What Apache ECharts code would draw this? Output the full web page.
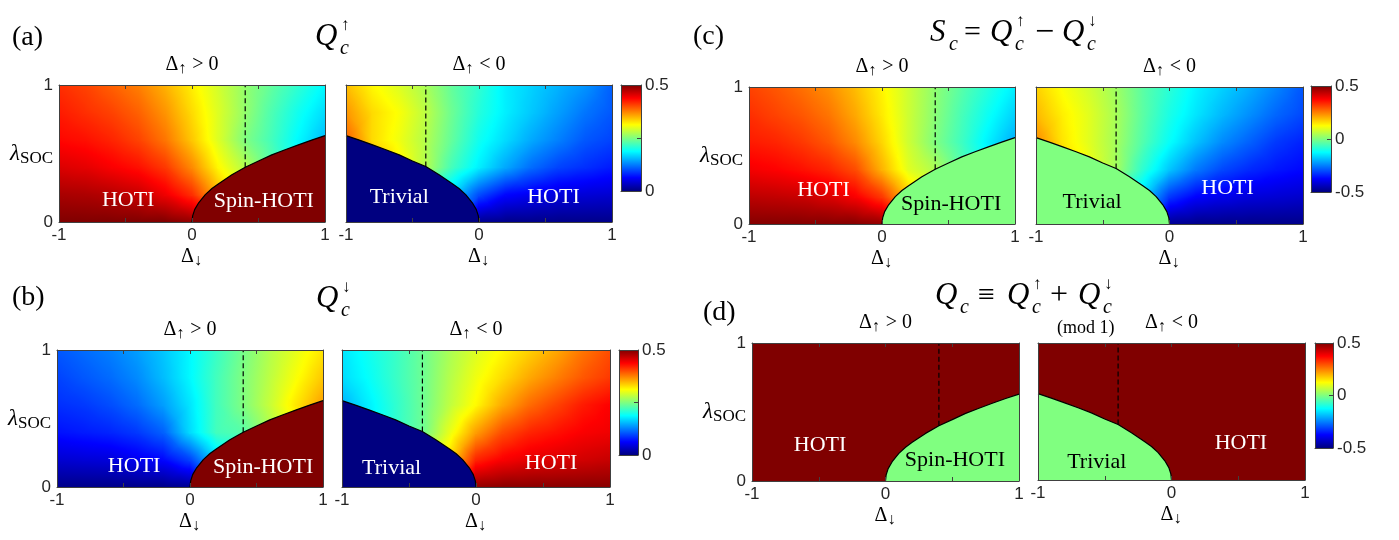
<!DOCTYPE html>
<html>
<head>
<meta charset="utf-8">
<script src="https://cdn.jsdelivr.net/npm/echarts@6/dist/echarts.min.js"></script>
<style>
  html, body { margin: 0; padding: 0; background: #fff; }
  #main { width: 1399px; height: 540px; }
</style>
</head>
<body>
<div id="main"></div>
<script>
// grid nodes of the phase maps
var deltaDown = [-1, -0.8, -0.6, -0.4, -0.2, 0, 0.2, 0.4, 0.6, 0.8, 1];
var lambdaSoc = [0, 0.2, 0.4, 0.6, 0.8, 1];

// Q_c^up, rows lambda = 0 .. 1
var qUpPos = [
  [0.5, 0.5, 0.5, 0.5, 0.5, 0.49, 0.45, 0.4, 0.35, 0.3, 0.25],
  [0.48, 0.478, 0.473, 0.465, 0.445, 0.415, 0.35, 0.3, 0.25, 0.225, 0.2],
  [0.455, 0.45, 0.44, 0.43, 0.41, 0.37, 0.315, 0.275, 0.23, 0.185, 0.16],
  [0.435, 0.43, 0.42, 0.405, 0.38, 0.34, 0.295, 0.25, 0.22, 0.185, 0.155],
  [0.425, 0.415, 0.405, 0.39, 0.365, 0.33, 0.295, 0.26, 0.225, 0.195, 0.17],
  [0.415, 0.405, 0.39, 0.375, 0.35, 0.32, 0.29, 0.26, 0.235, 0.21, 0.185]
];
var qUpNeg = [
  [0.25, 0.225, 0.2, 0.175, 0.15, 0.01, 0.005, 0.005, 0.005, 0.005, 0.005],
  [0.275, 0.25, 0.225, 0.2, 0.165, 0.1, 0.065, 0.055, 0.045, 0.043, 0.04],
  [0.4, 0.36, 0.32, 0.275, 0.22, 0.18, 0.145, 0.115, 0.095, 0.085, 0.075],
  [0.39, 0.33, 0.305, 0.275, 0.235, 0.195, 0.17, 0.145, 0.125, 0.105, 0.095],
  [0.365, 0.33, 0.31, 0.28, 0.24, 0.205, 0.18, 0.16, 0.14, 0.12, 0.105],
  [0.345, 0.315, 0.295, 0.27, 0.235, 0.21, 0.18, 0.165, 0.15, 0.135, 0.11]
];
// Q_c^down
var qDownPos = [
  [0.005, 0.005, 0.005, 0.005, 0.005, 0.01, 0.1, 0.15, 0.175, 0.2, 0.225],
  [0.04, 0.043, 0.045, 0.055, 0.065, 0.095, 0.165, 0.2, 0.225, 0.25, 0.275],
  [0.07, 0.075, 0.08, 0.09, 0.11, 0.17, 0.22, 0.23, 0.27, 0.31, 0.35],
  [0.085, 0.09, 0.1, 0.115, 0.14, 0.175, 0.22, 0.25, 0.285, 0.325, 0.36],
  [0.095, 0.105, 0.115, 0.13, 0.155, 0.185, 0.22, 0.25, 0.28, 0.31, 0.34],
  [0.105, 0.115, 0.125, 0.14, 0.16, 0.185, 0.215, 0.245, 0.275, 0.3, 0.325]
];
var qDownNeg = [
  [0.25, 0.275, 0.3, 0.325, 0.375, 0.49, 0.495, 0.495, 0.495, 0.495, 0.495],
  [0.2, 0.225, 0.25, 0.275, 0.33, 0.42, 0.44, 0.45, 0.455, 0.46, 0.465],
  [0.15, 0.175, 0.21, 0.24, 0.3, 0.36, 0.4, 0.42, 0.43, 0.44, 0.445],
  [0.15, 0.18, 0.21, 0.24, 0.28, 0.315, 0.355, 0.385, 0.405, 0.425, 0.438],
  [0.17, 0.19, 0.215, 0.24, 0.275, 0.305, 0.33, 0.355, 0.375, 0.395, 0.41],
  [0.175, 0.195, 0.215, 0.24, 0.27, 0.295, 0.315, 0.335, 0.355, 0.38, 0.4]
];

// Q_c (mod 1) in the HOTI phase, and the value inside the gapped regions
var qcHoti = 0.5;
var regionSpin = [0.5, 0.5, 0, 0];      // Q_up, Q_down, S_c, Q_c
var regionTrivial = [0, 0, 0, 0];

// phase boundary (Spin-HOTI for Delta_up > 0, Trivial for Delta_up < 0)
var bndPosDelta = [0, 0.005, 0.02, 0.05, 0.1, 0.15, 0.2, 0.3, 0.4, 0.5, 0.6, 0.7, 0.8, 0.9, 1];
var bndPosLambda = [0, 0.045, 0.09, 0.14, 0.2, 0.245, 0.28, 0.345, 0.4, 0.445, 0.49, 0.527, 0.563, 0.598, 0.63];
var bndNegDelta = [-1, -0.9, -0.8, -0.7, -0.6, -0.5, -0.4, -0.3, -0.2, -0.15, -0.1, -0.05, -0.02, -0.005, 0];
var bndNegLambda = [0.63, 0.598, 0.563, 0.527, 0.49, 0.445, 0.405, 0.345, 0.28, 0.245, 0.2, 0.14, 0.09, 0.045, 0];

// dashed guide |Delta_down| = |Delta_up|
var dashDelta = [0.4, -0.4];
var dashLambda = [0.4, 0.405];

// S_c = Q_up - Q_down
function diff(a, b) {
  return a.map(function (row, j) { return row.map(function (v, i) { return +(v - b[j][i]).toFixed(4); }); });
}
var scPos = diff(qUpPos, qDownPos);
var scNeg = diff(qUpNeg, qDownNeg);
var qcField = [[qcHoti, qcHoti], [qcHoti, qcHoti]];

var JET = [[0, [0, 0, 128]], [0.125, [0, 0, 255]], [0.375, [0, 255, 255]],
           [0.625, [255, 255, 0]], [0.875, [255, 0, 0]], [1, [128, 0, 0]]];
function jet(t) {
  t = Math.max(0, Math.min(1, t));
  for (var k = 1; k < JET.length; k++) {
    if (t <= JET[k][0]) {
      var a = JET[k - 1], b = JET[k], f = (t - a[0]) / (b[0] - a[0]);
      return 'rgb(' + [0, 1, 2].map(function (c) {
        return Math.round(a[1][c] + f * (b[1][c] - a[1][c]));
      }).join(',') + ')';
    }
  }
  return 'rgb(128,0,0)';
}

// one triangle, coloured linearly between its three corner values
function tri(A, B, C, range) {
  var norm = function (v) { return (v - range[0]) / (range[1] - range[0]); };
  var dx1 = B.p[0] - A.p[0], dy1 = B.p[1] - A.p[1], dv1 = B.v - A.v;
  var dx2 = C.p[0] - A.p[0], dy2 = C.p[1] - A.p[1], dv2 = C.v - A.v;
  var det = dx1 * dy2 - dx2 * dy1;
  var ga = (dv1 * dy2 - dv2 * dy1) / det, gb = (dx1 * dv2 - dx2 * dv1) / det;
  var g2 = ga * ga + gb * gb;
  var vmin = Math.min(A.v, B.v, C.v), vmax = Math.max(A.v, B.v, C.v);
  var fill;
  if (vmax - vmin < 1e-6 || g2 < 1e-14) {
    fill = jet(norm(A.v));
  } else {
    var s0 = (vmin - A.v) / g2, s1 = (vmax - A.v) / g2;
    var stops = [];
    for (var k = 0; k <= 8; k++) {
      stops.push({ offset: k / 8, color: jet(norm(vmin + (vmax - vmin) * k / 8)) });
    }
    fill = new echarts.graphic.LinearGradient(A.p[0] + ga * s0, A.p[1] + gb * s0,
      A.p[0] + ga * s1, A.p[1] + gb * s1, stops, true);
  }
  return { type: 'polygon', shape: { points: [A.p, B.p, C.p] }, style: { fill: fill, stroke: fill, lineWidth: 1.6 } };
}

function fieldSeries(gi, xs, ys, values, range) {
  var items = [];
  for (var j = 0; j < ys.length - 1; j++) {
    for (var i = 0; i < xs.length - 1; i++) items.push([xs[i], ys[j], i, j]);
  }
  return {
    type: 'custom', xAxisIndex: 2 * gi, yAxisIndex: 2 * gi, clip: true, silent: true, z: 1,
    data: items,
    renderItem: function (params, api) {
      var i = api.value(2), j = api.value(3);
      var n = [[i, j], [i + 1, j], [i + 1, j + 1], [i, j + 1]].map(function (q) {
        return { p: api.coord([xs[q[0]], ys[q[1]]]), v: values[q[1]][q[0]] };
      });
      var flat = n.every(function (q) { return q.v === n[0].v; });
      if (flat) {
        var c = jet((n[0].v - range[0]) / (range[1] - range[0]));
        return { type: 'rect', shape: { x: n[0].p[0], y: n[2].p[1], width: n[1].p[0] - n[0].p[0], height: n[0].p[1] - n[2].p[1] },
          style: { fill: c } };
      }
      // split the cell in four around its centre so that no diagonal crease shows
      var m = {
        p: [(n[0].p[0] + n[2].p[0]) / 2, (n[0].p[1] + n[2].p[1]) / 2],
        v: (n[0].v + n[1].v + n[2].v + n[3].v) / 4
      };
      return { type: 'group', children: [
        tri(n[0], n[1], m, range), tri(n[1], n[2], m, range),
        tri(n[2], n[3], m, range), tri(n[3], n[0], m, range)
      ] };
    }
  };
}

var AX = '#404040', TXT = '#262626';
var SERIF = '"Liberation Serif", "DejaVu Serif", serif';
var SANS = '"Liberation Sans", Arial, sans-serif';

var grids = [
  [59, 85, 266, 137], [346, 85, 266, 137], [621, 85, 20, 106],
  [57, 350, 266, 137], [342, 350, 268, 137], [619, 350, 19, 105],
  [749, 87, 266, 137], [1036, 87, 267, 137], [1311, 86, 20, 106],
  [752, 343, 267, 138], [1038, 343, 267, 137], [1315, 343, 18, 105]
];

var R1 = [0, 0.5], R2 = [-0.5, 0.5];
var panels = [
  { g: 0, field: qUpPos, range: R1, side: 'pos', region: regionSpin[0], yName: true,
    labels: [['HOTI', -0.48, 0.16, '#fff'], ['Spin-HOTI', 0.54, 0.15, '#fff']] },
  { g: 1, field: qUpNeg, range: R1, side: 'neg', region: regionTrivial[0], yName: false,
    labels: [['Trivial', -0.6, 0.18, '#fff'], ['HOTI', 0.56, 0.18, '#fff']] },
  { g: 3, field: qDownPos, range: R1, side: 'pos', region: regionSpin[1], yName: true,
    labels: [['HOTI', -0.42, 0.155, '#fff'], ['Spin-HOTI', 0.55, 0.146, '#fff']] },
  { g: 4, field: qDownNeg, range: R1, side: 'neg', region: regionTrivial[1], yName: false,
    labels: [['Trivial', -0.63, 0.14, '#fff'], ['HOTI', 0.56, 0.17, '#fff']] },
  { g: 6, field: scPos, range: R2, side: 'pos', region: regionSpin[2], yName: true,
    labels: [['HOTI', -0.44, 0.25, '#fff'], ['Spin-HOTI', 0.52, 0.146, '#000']] },
  { g: 7, field: scNeg, range: R2, side: 'neg', region: regionTrivial[2], yName: false,
    labels: [['Trivial', -0.58, 0.16, '#000'], ['HOTI', 0.435, 0.26, '#fff']] },
  { g: 9, field: qcField, xs: [-1, 1], ys: [0, 1], range: R2, side: 'pos', region: regionSpin[3], yName: true,
    labels: [['HOTI', -0.49, 0.26, '#fff'], ['Spin-HOTI', 0.52, 0.15, '#000']] },
  { g: 10, field: qcField, xs: [-1, 1], ys: [0, 1], range: R2, side: 'neg', region: regionTrivial[3], yName: false,
    labels: [['Trivial', -0.56, 0.13, '#000'], ['HOTI', 0.52, 0.27, '#fff']] }
];
var colorbars = [
  { g: 2, range: R1, step: 0.25 }, { g: 5, range: R1, step: 0.25 },
  { g: 8, range: R2, step: 0.5 }, { g: 11, range: R2, step: 0.5 }
];

var rich = {
  d: { fontFamily: SERIF, fontSize: 20, color: '#000' },
  a: { fontFamily: SERIF, fontSize: 16, color: '#000', padding: [9, 1, 0, 0] },
  t: { fontFamily: SERIF, fontSize: 20, color: '#000' },
  l: { fontFamily: SERIF, fontStyle: 'italic', fontSize: 23, color: '#000' },
  s: { fontFamily: SERIF, fontSize: 17, color: '#000', padding: [10, 0, 0, 0] }
};

var xAxes = [], yAxes = [], series = [];
var line = { show: true, onZero: false, lineStyle: { color: AX, width: 1 } };
var tick = { show: true, inside: true, length: 4, lineStyle: { color: AX } };

panels.forEach(function (p) {
  var gi = p.g;
  xAxes[2 * gi] = {
    gridIndex: gi, type: 'value', min: -1, max: 1, interval: 0.5, z: 10,
    axisLine: line, axisTick: tick, splitLine: { show: false },
    axisLabel: { color: TXT, fontSize: 17, fontFamily: SANS, margin: 5,
      formatter: function (v) { return (v === -1 || v === 0 || v === 1) ? String(v) : ''; } },
    name: '{d|Δ}{a|↓}', nameLocation: 'middle', nameGap: 22, nameMoveOverlap: false,
    nameTextStyle: { rich: rich }
  };
  xAxes[2 * gi + 1] = {
    gridIndex: gi, type: 'value', position: 'top', min: -1, max: 1, interval: 0.5, z: 10,
    axisLine: line, axisTick: tick, splitLine: { show: false }, axisLabel: { show: false },
    name: '{d|Δ}{a|↑}{t| ' + (p.side === 'pos' ? '>' : '<') + ' 0}', nameLocation: 'middle', nameGap: 8,
    nameMoveOverlap: false, nameTextStyle: { rich: rich }
  };
  yAxes[2 * gi] = {
    gridIndex: gi, type: 'value', min: 0, max: 1, interval: 1, z: 10,
    axisLine: line, axisTick: { show: false }, splitLine: { show: false },
    axisLabel: { show: p.yName, color: TXT, fontSize: 17, fontFamily: SANS, margin: 6 },
    name: p.yName ? '{l|λ}{s|SOC}' : '', nameLocation: 'middle', nameRotate: 0, nameGap: 6,
    nameMoveOverlap: false, nameTextStyle: { rich: rich, align: 'right' }
  };
  yAxes[2 * gi + 1] = {
    gridIndex: gi, type: 'value', position: 'right', min: 0, max: 1, interval: 1, z: 10,
    axisLine: line, axisTick: { show: false }, splitLine: { show: false }, axisLabel: { show: false }
  };

  var xs = p.xs || deltaDown, ys = p.ys || lambdaSoc;
  series.push(fieldSeries(gi, xs, ys, p.field, p.range));

  var bx = p.side === 'pos' ? bndPosDelta : bndNegDelta;
  var by = p.side === 'pos' ? bndPosLambda : bndNegLambda;
  var k = p.side === 'pos' ? 0 : 1;
  series.push({
    type: 'line', xAxisIndex: 2 * gi, yAxisIndex: 2 * gi, silent: true, z: 3,
    data: bx.map(function (x, i) { return [x, by[i]]; }),
    symbol: 'none', lineStyle: { color: '#000', width: 1.2 },
    areaStyle: { color: jet((p.region - p.range[0]) / (p.range[1] - p.range[0])), opacity: 1, origin: 'start' }
  });
  series.push({
    type: 'line', xAxisIndex: 2 * gi, yAxisIndex: 2 * gi, silent: true, z: 4,
    data: [[dashDelta[k], dashLambda[k]], [dashDelta[k], 1]],
    symbol: 'none', lineStyle: { color: '#000', width: 1.2, type: [5, 3] }
  });
  series.push({
    type: 'custom', xAxisIndex: 2 * gi, yAxisIndex: 2 * gi, silent: true, z: 5,
    data: p.labels.map(function (l) { return [l[1], l[2]]; }),
    renderItem: function (params, api) {
      var l = p.labels[params.dataIndex];
      var c = api.coord([api.value(0), api.value(1)]);
      return { type: 'text', x: c[0], y: c[1],
        style: { text: l[0], fill: l[3], font: '22px ' + SERIF, align: 'center', verticalAlign: 'middle' } };
    }
  });
});

colorbars.forEach(function (cb) {
  var gi = cb.g;
  xAxes[2 * gi] = { gridIndex: gi, type: 'value', min: 0, max: 1, z: 10, axisLine: line,
    axisTick: { show: false }, axisLabel: { show: false }, splitLine: { show: false } };
  xAxes[2 * gi + 1] = { gridIndex: gi, type: 'value', position: 'top', min: 0, max: 1, z: 10, axisLine: line,
    axisTick: { show: false }, axisLabel: { show: false }, splitLine: { show: false } };
  yAxes[2 * gi] = { gridIndex: gi, type: 'value', min: cb.range[0], max: cb.range[1], z: 10, axisLine: line,
    axisTick: { show: false }, axisLabel: { show: false }, splitLine: { show: false } };
  yAxes[2 * gi + 1] = {
    gridIndex: gi, type: 'value', position: 'right', min: cb.range[0], max: cb.range[1], interval: cb.step, z: 10,
    axisLine: line, axisTick: tick, splitLine: { show: false },
    axisLabel: { color: TXT, fontSize: 17, fontFamily: SANS, margin: 4,
      formatter: function (v) { return (Math.abs(v * 2 - Math.round(v * 2)) < 1e-9) ? String(v) : ''; } }
  };
  series.push({
    type: 'custom', xAxisIndex: 2 * gi, yAxisIndex: 2 * gi, silent: true, z: 1,
    data: [[0, cb.range[0], cb.range[1]]],
    renderItem: function (params, api) {
      var p0 = api.coord([0, api.value(1)]), p1 = api.coord([1, api.value(2)]);
      var stops = JET.map(function (s) { return { offset: s[0], color: jet(s[0]) }; });
      return { type: 'rect', shape: { x: p0[0], y: p1[1], width: p1[0] - p0[0], height: p0[1] - p1[1] },
        style: { fill: new echarts.graphic.LinearGradient(0, 1, 0, 0, stops) } };
    }
  });
});

// titles
function t(x, y, s, font, align) {
  return { type: 'text', x: x, y: y, silent: true,
    style: { text: s, font: font, fill: '#000', align: align || 'left', verticalAlign: 'middle' } };
}
var QF = 'italic 31px ' + SERIF, SUBF = 'italic 20px ' + SERIF, ARF = '17px ' + SERIF, OPF = '30px ' + SERIF;
function qGlyph(x, y, arrow) {
  var out = [t(x, y, 'Q', QF), t(x + 25, y + 12, 'c', SUBF)];
  if (arrow) out.push(t(x + 26, y - 11, arrow, ARF));
  return out;
}
var graphics = [
  t(12, 38, '(a)', '28px ' + SERIF), t(12, 298, '(b)', '28px ' + SERIF),
  t(693, 37, '(c)', '28px ' + SERIF), t(703, 313, '(d)', '28px ' + SERIF)
]
  .concat(qGlyph(315, 37, '↑'))
  .concat(qGlyph(316, 299, '↓'))
  .concat([t(930, 33, 'S', QF), t(949, 45, 'c', SUBF), t(964, 33, '=', OPF)])
  .concat(qGlyph(990, 33, '↑'))
  .concat([t(1035, 33, '−', '34px ' + SERIF)])
  .concat(qGlyph(1062, 33, '↓'))
  .concat(qGlyph(935, 296, null))
  .concat([t(978, 296, '≡', OPF)])
  .concat(qGlyph(1007, 296, '↑'))
  .concat([t(1050, 296, '+', '32px ' + SERIF)])
  .concat(qGlyph(1078, 296, '↓'))
  .concat([t(1057, 328, '(mod 1)', '18px ' + SERIF)])
  .concat([{ type: 'rect', shape: { x: 1367, y: 430, width: 40, height: 40 }, style: { fill: '#fff' }, z: 100 }]);

var chart = echarts.init(document.getElementById('main'));
chart.setOption({
  animation: false,
  grid: grids.map(function (g) {
    return { left: g[0], top: g[1], width: g[2], height: g[3], containLabel: false, outerBoundsMode: 'none' };
  }),
  xAxis: xAxes,
  yAxis: yAxes,
  series: series,
  graphic: graphics
});
</script>
</body>
</html>
